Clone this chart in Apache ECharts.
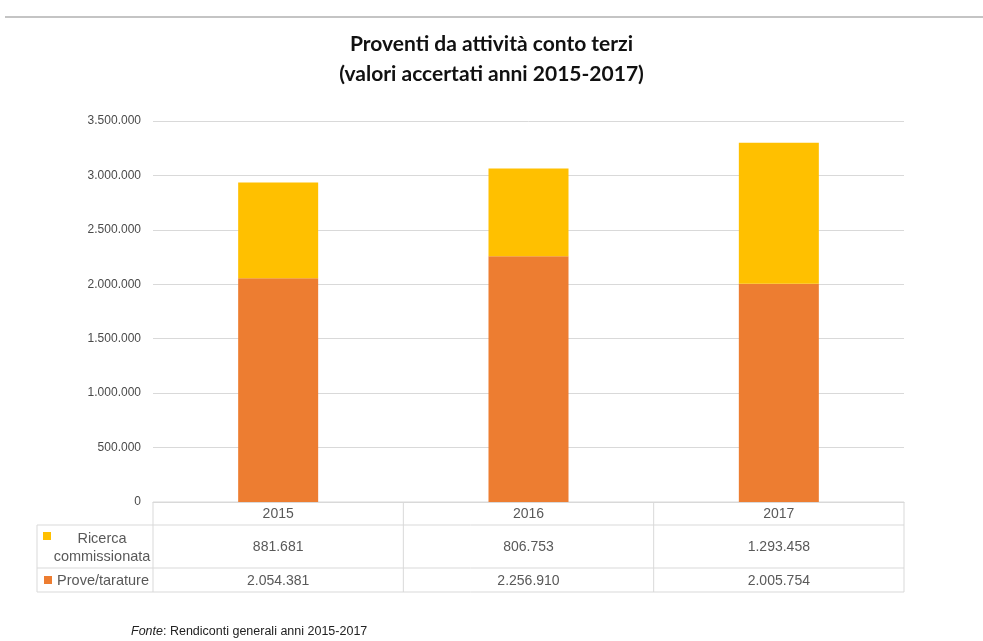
<!DOCTYPE html>
<html><head><meta charset="utf-8">
<script src="https://cdn.jsdelivr.net/npm/echarts@6/dist/echarts.min.js"></script>
<style>html,body{margin:0;padding:0;background:#fff;}#c{width:983px;height:641px;}</style>
</head><body><div id="c"></div>
<script>
const years = ['2015', '2016', '2017'];
const ricerca = [881681, 806753, 1293458];
const prove = [2054381, 2256910, 2005754];
const seriesNames = ['Prove/tarature', 'Ricerca commissionata'];
const tableRowLabels = ['Ricerca\ncommissionata', 'Prove/tarature'];
const titleLines = ['Proventi da attività conto terzi', '(valori accertati anni 2015-2017)'];
const sourceNote = ['Fonte', ': Rendiconti generali anni 2015-2017'];

const colors = { prove: '#ED7D31', ricerca: '#FFC000' };
const txt = '#595959';
const lineCol = '#d9d9d9';
const fontFam = '"Liberation Sans", Arial, sans-serif';

function fmt(v) { return String(v).replace(/\B(?=(\d{3})+(?!\d))/g, '.'); }

const chart = echarts.init(document.getElementById('c'), null, { renderer: 'canvas' });
const option = {
  animation: false,
  backgroundColor: '#fff',
  title: {
    text: titleLines.join('\n'),
    left: 'center', top: 24,
    textStyle: { fontFamily: 'Lato, "Liberation Sans", sans-serif', fontWeight: 'bold', fontSize: 21, color: '#111', lineHeight: 30 }
  },
  grid: { left: 153, right: 79, top: 121, bottom: 139 },
  xAxis: {
    type: 'category', data: years,
    axisLine: { show: true, lineStyle: { color: lineCol } },
    axisTick: { show: false }, axisLabel: { show: false }
  },
  yAxis: {
    type: 'value', min: 0, max: 3500000, interval: 500000,
    axisLine: { show: false }, axisTick: { show: false },
    splitLine: { lineStyle: { color: lineCol } },
    axisLabel: { formatter: fmt, color: '#4a4a4a', fontSize: 12, fontFamily: fontFam, margin: 12 }
  },
  series: [
    { name: seriesNames[0], type: 'bar', stack: 't', data: prove, barWidth: 80, itemStyle: { color: colors.prove } },
    { name: seriesNames[1], type: 'bar', stack: 't', data: ricerca, barWidth: 80, itemStyle: { color: colors.ricerca } }
  ]
};
chart.setOption(option);

// Data table below the plot, positioned from the axes
const c0 = chart.convertToPixel({ xAxisIndex: 0 }, years[0]);
const c1 = chart.convertToPixel({ xAxisIndex: 0 }, years[1]);
const bw = c1 - c0;
const leftEdge = c0 - bw / 2;
const rightEdge = chart.convertToPixel({ xAxisIndex: 0 }, years[years.length - 1]) + bw / 2;
const y0 = chart.convertToPixel({ yAxisIndex: 0 }, 0);
const rowH = [23, 43, 24];
const rowY = [y0, y0 + rowH[0], y0 + rowH[0] + rowH[1], y0 + rowH[0] + rowH[1] + rowH[2]];
const tableLeft = leftEdge - 116;

const g = [];
function line(x1, y1, x2, y2) {
  g.push({ type: 'line', shape: { x1, y1, x2, y2 }, style: { stroke: lineCol, lineWidth: 1 }, silent: true });
}
function text(t, x, y, opts) {
  g.push({ type: 'text', x, y, style: Object.assign({ text: t, fill: txt, font: '14px ' + fontFam, align: 'center', verticalAlign: 'middle' }, opts || {}), silent: true });
}
// horizontal lines
line(leftEdge, rowY[0], rightEdge, rowY[0]);
for (let i = 1; i < 4; i++) line(tableLeft, rowY[i], rightEdge, rowY[i]);
// vertical lines
line(tableLeft, rowY[1], tableLeft, rowY[3]);
for (let i = 0; i <= years.length; i++) {
  const x = leftEdge + i * bw;
  line(x, rowY[0], x, rowY[3]);
}
// cells
years.forEach((yr, i) => {
  const cx = chart.convertToPixel({ xAxisIndex: 0 }, yr);
  text(yr, cx, (rowY[0] + rowY[1]) / 2 + 1);
  text(fmt(ricerca[i]), cx, (rowY[1] + rowY[2]) / 2 + 1);
  text(fmt(prove[i]), cx, (rowY[2] + rowY[3]) / 2 + 1);
});
// row headers with legend keys
g.push({ type: 'rect', shape: { x: tableLeft + 6, y: rowY[1] + 7, width: 8, height: 8 }, style: { fill: colors.ricerca }, silent: true });
text(tableRowLabels[0], leftEdge - 51, (rowY[1] + rowY[2]) / 2 + 1, { lineHeight: 18, font: '14.5px ' + fontFam });
g.push({ type: 'rect', shape: { x: tableLeft + 7, y: rowY[2] + 8, width: 8, height: 8 }, style: { fill: colors.prove }, silent: true });
text(tableRowLabels[1], leftEdge - 4, (rowY[2] + rowY[3]) / 2 + 1, { align: 'right', font: '14.5px ' + fontFam });
// top rule
g.push({ type: 'line', shape: { x1: 5, y1: 17, x2: 983, y2: 17 }, style: { stroke: '#c4c4c4', lineWidth: 2 }, silent: true });
// source note
g.push({
  type: 'text', x: 131, y: 632, silent: true,
  style: {
    text: '{i|' + sourceNote[0] + '}{n|' + sourceNote[1] + '}',
    verticalAlign: 'middle',
    rich: {
      i: { fontStyle: 'italic', fontSize: 12.5, fontFamily: fontFam, fill: '#222' },
      n: { fontSize: 12.5, fontFamily: fontFam, fill: '#222' }
    }
  }
});
chart.setOption({ graphic: g });
</script>
</body></html>
